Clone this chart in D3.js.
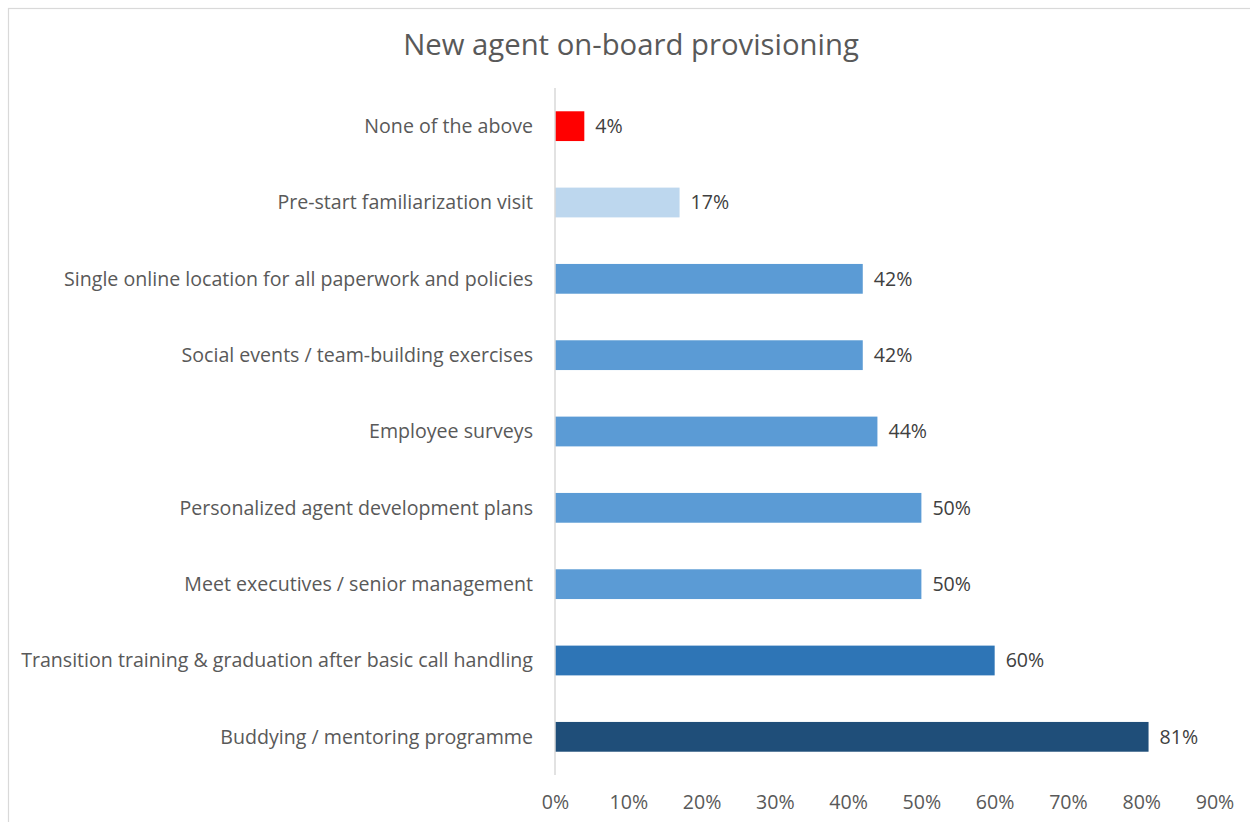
<!DOCTYPE html>
<html><head><meta charset="utf-8">
<script src="https://cdn.jsdelivr.net/npm/d3@7"></script>
<style>body{margin:0;background:#fff}svg{display:block}</style>
</head><body><svg id="c" width="1250" height="822"></svg>
<script>
const categories = ["None of the above","Pre-start familiarization visit","Single online location for all paperwork and policies","Social events / team-building exercises","Employee surveys","Personalized agent development plans","Meet executives / senior management","Transition training & graduation after basic call handling","Buddying / mentoring programme"];
const values = [4,17,42,42,44,50,50,60,81];
const barColors = ["#FF0000","#BDD7EE","#5B9BD5","#5B9BD5","#5B9BD5","#5B9BD5","#5B9BD5","#2E75B6","#1F4E79"];
const tickValues = [0,10,20,30,40,50,60,70,80,90];
const title = "New agent on-board provisioning";

const svg = d3.select("#c");
const font = "'Open Sans', sans-serif";
svg.append("rect").attr("x",8.5).attr("y",8.5).attr("width",1260).attr("height",830)
  .attr("fill","#fff").attr("stroke","#d9d9d9").attr("stroke-width",1.2);

const x = d3.scaleLinear().domain([0,90]).range([555,1214.5]);
const y = d3.scaleBand().domain(categories).range([88,775]).paddingInner(0.61).paddingOuter(0.305);

svg.append("text").attr("x",631).attr("y",55).attr("text-anchor","middle")
  .attr("font-family",font).attr("font-size",29.3).attr("fill","#595959").text(title);

svg.selectAll("rect.bar").data(categories).enter().append("rect").attr("class","bar")
  .attr("x",x(0)).attr("y",d=>y(d)).attr("width",(d,i)=>x(values[i])-x(0))
  .attr("height",y.bandwidth()).attr("fill",(d,i)=>barColors[i]);

svg.append("line").attr("x1",x(0)).attr("x2",x(0)).attr("y1",88).attr("y2",775)
  .attr("stroke","#d9d9d9").attr("stroke-width",1.5);

svg.selectAll("text.cat").data(categories).enter().append("text").attr("class","cat")
  .attr("x",533).attr("y",d=>y(d)+y.bandwidth()/2).attr("dy","0.35em")
  .attr("text-anchor","end").attr("font-family",font).attr("font-size",19.6).attr("fill","#595959").text(d=>d);

svg.selectAll("text.val").data(categories).enter().append("text").attr("class","val")
  .attr("x",(d,i)=>x(values[i])+11).attr("y",d=>y(d)+y.bandwidth()/2).attr("dy","0.35em")
  .attr("font-family",font).attr("font-size",19.6).attr("fill","#404040").text((d,i)=>values[i]+"%");

const ax = svg.append("g").attr("transform","translate(0,792)")
  .call(d3.axisBottom(x).tickValues(tickValues).tickFormat(d=>d+"%").tickSize(0));
ax.select(".domain").remove();
ax.selectAll("text").attr("font-family",font).attr("font-size",19.6).attr("fill","#595959").attr("dy","0.71em");
</script></body></html>
